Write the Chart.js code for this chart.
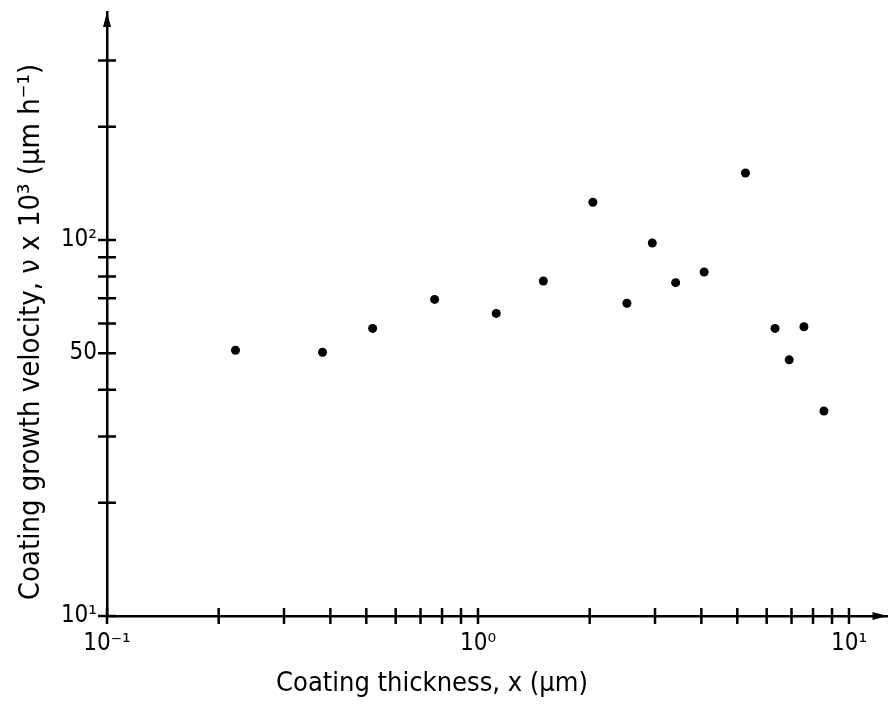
<!DOCTYPE html>
<html>
<head>
<meta charset="utf-8">
<script src="https://cdn.jsdelivr.net/npm/chart.js@4.4.1/dist/chart.umd.min.js"></script>
<style>
    html, body { margin: 0; padding: 0; background: #fff; }
    #wrap { width: 892px; height: 706px; }
</style>
</head>
<body>
<div id="wrap"><canvas id="chart" width="892" height="706"></canvas></div>
<script>
// Coating thickness x (um) and growth velocity v x 10^3 (um/h)
const thickness = [0.222, 0.381, 0.520, 0.764, 1.12, 1.50, 2.04, 2.52, 2.95, 3.41, 4.07, 5.26, 6.32, 6.90, 7.56, 8.56];
const velocity = [50.9, 50.3, 58.2, 69.5, 63.8, 77.8, 126, 67.9, 98.2, 77.0, 82.2, 150.7, 58.2, 48.0, 58.8, 35.1];

// tick marks on each axis, and the few that carry a label
const xTicks = [0.1, 0.2, 0.3, 0.4, 0.5, 0.6, 0.7, 0.8, 0.9, 1, 2, 3, 4, 5, 6, 7, 8, 9, 10];
const xLabelValues = [0.1, 1, 10];
const xLabelTexts = ['10⁻¹', '10⁰', '10¹'];
const yTicks = [10, 20, 30, 40, 50, 60, 70, 80, 90, 100, 200, 300];
const yLabelValues = [10, 50, 100];
const yLabelTexts = ['10¹', '50', '10²'];

const xTitle = 'Coating thickness, x (μm)';
const yTitle = 'Coating growth velocity, ν x 10³ (μm h⁻¹)';

const FONT = "'DejaVu Sans Condensed', 'Liberation Sans Narrow', 'DejaVu Sans', sans-serif";

function labelFor(values, texts, v) {
    const i = values.findIndex(t => Math.abs(t - v) < 1e-9);
    return i >= 0 ? texts[i] : '';
}

// draws ticks crossing the axis lines, the arrow heads and the axis titles
const axisPlugin = {
    id: 'axisMarks',
    afterDraw(chart) {
        const { ctx, chartArea, scales } = chart;
        const ax = chartArea.left;
        const ay = chartArea.bottom;
        ctx.save();
        ctx.strokeStyle = '#000';
        ctx.fillStyle = '#000';
        ctx.lineWidth = 2.5;
        ctx.beginPath();
        xTicks.forEach(v => {
            const px = scales.x.getPixelForValue(v);
            ctx.moveTo(px, ay - 8);
            ctx.lineTo(px, ay + 8);
        });
        yTicks.forEach(v => {
            const py = scales.y.getPixelForValue(v);
            ctx.moveTo(ax - 9, py);
            ctx.lineTo(ax + 9, py);
        });
        ctx.stroke();

        // arrow at top of y axis
        ctx.beginPath();
        ctx.moveTo(ax, chartArea.top);
        ctx.lineTo(ax - 4, chartArea.top + 15);
        ctx.lineTo(ax + 4, chartArea.top + 15);
        ctx.closePath();
        ctx.fill();
        // arrow at right of x axis
        ctx.beginPath();
        ctx.moveTo(chartArea.right, ay);
        ctx.lineTo(chartArea.right - 15, ay - 4);
        ctx.lineTo(chartArea.right - 15, ay + 4);
        ctx.closePath();
        ctx.fill();

        // axis titles (placed like the original, not centred on the plot)
        ctx.textAlign = 'center';
        ctx.textBaseline = 'middle';
        ctx.font = '27px ' + FONT;
        ctx.fillText(xTitle, 432, 684);
        ctx.translate(31, 332);
        ctx.rotate(-Math.PI / 2);
        ctx.font = '29px ' + FONT;
        ctx.fillText(yTitle, 0, 0);
        ctx.restore();
    }
};

const points = thickness.map((x, i) => ({ x: x, y: velocity[i] }));

new Chart(document.getElementById('chart'), {
    type: 'scatter',
    data: {
        datasets: [{
            data: points,
            backgroundColor: '#000',
            borderWidth: 0,
            pointRadius: 4.5,
            pointHoverRadius: 4.5
        }]
    },
    options: {
        responsive: false,
        devicePixelRatio: 1,
        animation: false,
        layout: { padding: { top: 12, right: 2, left: 0, bottom: 0 } },
        plugins: {
            legend: { display: false },
            tooltip: { enabled: false }
        },
        scales: {
            x: {
                type: 'logarithmic',
                min: 0.1,
                max: 12.7,
                afterFit: scale => {
                    scale.height = 90;
                    scale.paddingLeft = 0;
                    scale.paddingRight = 0;
                },
                afterBuildTicks: scale => { scale.ticks = xTicks.map(v => ({ value: v })); },
                grid: { display: false, drawTicks: false },
                border: { display: true, color: '#000', width: 2.5 },
                ticks: {
                    autoSkip: false,
                    maxRotation: 0,
                    padding: 13,
                    color: '#000',
                    font: { family: FONT, size: 24 },
                    callback: v => labelFor(xLabelValues, xLabelTexts, v)
                }
            },
            y: {
                type: 'logarithmic',
                min: 10,
                max: 404,
                afterFit: scale => {
                    scale.width = 107;
                    scale.paddingTop = 0;
                    scale.paddingBottom = 0;
                },
                afterBuildTicks: scale => { scale.ticks = yTicks.map(v => ({ value: v })); },
                grid: { display: false, drawTicks: false },
                border: { display: true, color: '#000', width: 2.5 },
                ticks: {
                    autoSkip: false,
                    padding: 10,
                    color: '#000',
                    font: { family: FONT, size: 24 },
                    callback: v => labelFor(yLabelValues, yLabelTexts, v)
                }
            }
        }
    },
    plugins: [axisPlugin]
});
</script>
</body>
</html>
